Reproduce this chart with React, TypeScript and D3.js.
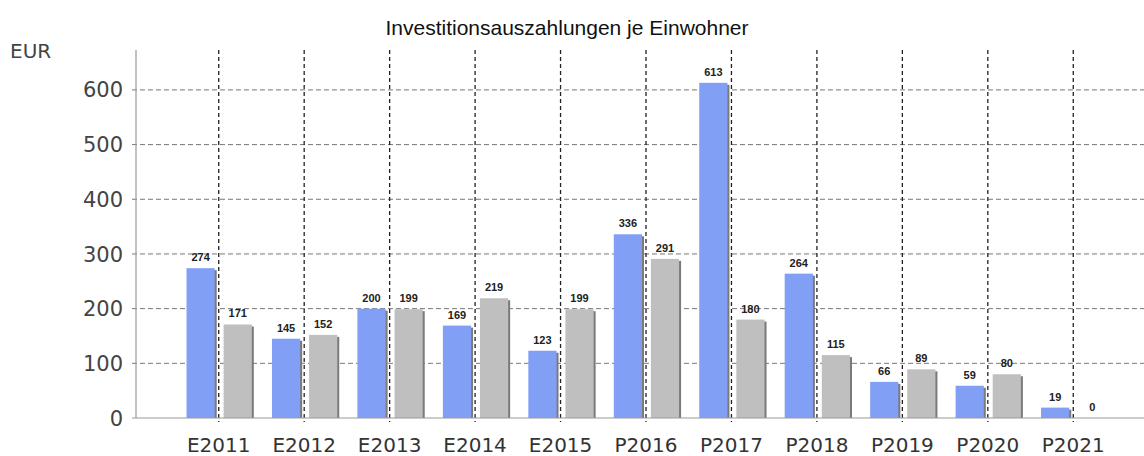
import React from 'react';
import * as d3 from 'd3';

// Daten aus der Grafik
const categories = ['E2011', 'E2012', 'E2013', 'E2014', 'E2015', 'P2016', 'P2017', 'P2018', 'P2019', 'P2020', 'P2021'];
const seriesA = [274, 145, 200, 169, 123, 336, 613, 264, 66, 59, 19];
const seriesB = [171, 152, 199, 219, 199, 291, 180, 115, 89, 80, 0];
const yTicks = [0, 100, 200, 300, 400, 500, 600];
const seriesKeys = ['a', 'b'];

const W = 1144;
const H = 456;
const axisX = 136;
const baseY = 418;
const topY = 50;

export default function App() {
    const x0 = d3.scaleBand<string>().domain(categories).range([176, 1116]);
    const bw = x0.bandwidth();
    const x1 = d3.scaleBand<string>().domain(seriesKeys).range([bw * 0.123, bw * 0.887]).paddingInner(0.24);
    const y = d3.scaleLinear().domain([0, 673]).range([baseY, topY]);

    const colors = {a: '#829ff6', b: '#bfbfbf'};
    const values = {a: seriesA, b: seriesB};
    const font = '"DejaVu Sans", Verdana, sans-serif';
    const center = (c: string) => (x0(c) as number) + bw / 2;

    return (
        <svg width={W} height={H} style={{position: 'absolute', left: 0, top: 0, background: '#fff'}}>
            <text x={567} y={35} textAnchor="middle" fontFamily='"Liberation Sans", Arial, sans-serif' fontSize={21} fill="#111">
                Investitionsauszahlungen je Einwohner
            </text>
            <text x={10} y={58} fontFamily={font} fontSize={20} fill="#444">EUR</text>

            {/* horizontale Gitterlinien */}
            {yTicks.filter(t => t > 0).map(t => (
                <line key={'h' + t} x1={axisX - 4} x2={W} y1={y(t)} y2={y(t)}
                      stroke="#777" strokeWidth={1} strokeDasharray="5,3"/>
            ))}

            {/* Balken */}
            {categories.map((c, i) => (
                <g key={c} transform={`translate(${x0(c)},0)`}>
                    {seriesKeys.map(k => {
                        const v = values[k][i];
                        const bx = x1(k) as number;
                        const by = y(v);
                        const h = baseY - by;
                        return (
                            <g key={k}>
                                {h > 0 && <rect x={bx + 2} y={by + 2} width={x1.bandwidth()} height={Math.max(0, h - 2)} fill="#7a7a7a"/>}
                                {h > 0 && <rect x={bx} y={by} width={x1.bandwidth()} height={h} fill={colors[k]}/>}
                                <text x={bx + x1.bandwidth() / 2} y={by - 7} textAnchor="middle"
                                      fontFamily='"Liberation Sans", Arial, sans-serif' fontSize={11}
                                      fontWeight="bold" fill="#222">{v}</text>
                            </g>
                        );
                    })}
                </g>
            ))}

            {/* vertikale Gitterlinien */}
            {categories.map(c => (
                <line key={'v' + c} x1={center(c)} x2={center(c)} y1={topY} y2={baseY + 4}
                      stroke="#222" strokeWidth={1.3} strokeDasharray="4,3"/>
            ))}

            {/* Achsen */}
            <line x1={axisX} x2={axisX} y1={topY} y2={baseY} stroke="#999" strokeWidth={1.2}/>
            <line x1={axisX - 4} x2={W} y1={baseY} y2={baseY} stroke="#999" strokeWidth={1.2}/>

            {yTicks.map(t => (
                <text key={'yl' + t} x={123} y={y(t)} dy="0.36em" textAnchor="end"
                      fontFamily={font} fontSize={21} fill="#444">{t}</text>
            ))}
            {categories.map(c => (
                <text key={'xl' + c} x={center(c)} y={452} textAnchor="middle"
                      fontFamily={font} fontSize={20} fill="#333">{c}</text>
            ))}
        </svg>
    );
}
